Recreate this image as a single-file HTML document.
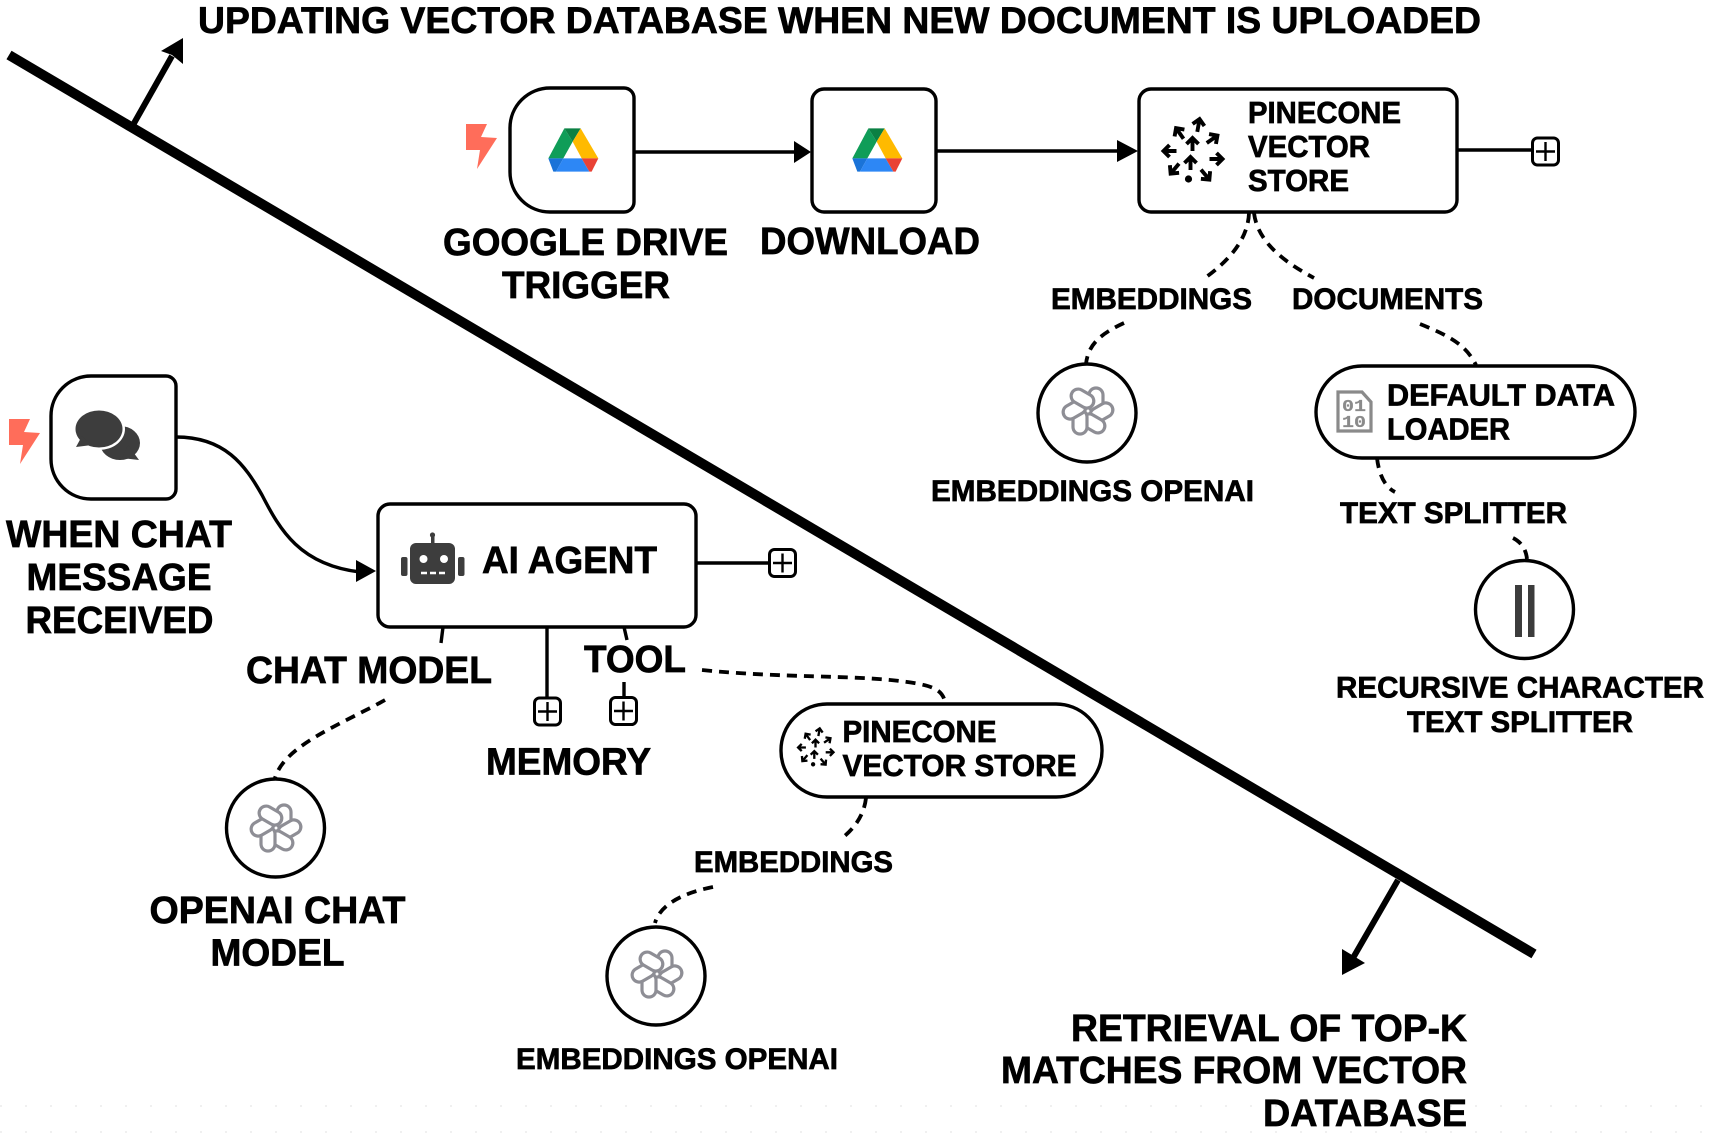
<!DOCTYPE html>
<html><head><meta charset="utf-8">
<style>
html,body{margin:0;padding:0;background:#fff;width:1713px;height:1140px;overflow:hidden}
svg{display:block}
text{font-family:"Liberation Sans",sans-serif;font-weight:bold;fill:#000;stroke:#000;stroke-width:.7}
.n{fill:#fff;stroke:#000;stroke-width:3.4}
.s{fill:none;stroke:#000;stroke-width:3.4}
.d{fill:none;stroke:#000;stroke-width:3.8;stroke-dasharray:10 7}
</style></head><body>
<svg width="1713" height="1140" viewBox="0 0 1713 1140" xmlns="http://www.w3.org/2000/svg">
<defs>
<g id="drive">
<polygon fill="#0f9d58" points="85,175 133,85 158,125 130,175"/>
<polygon fill="#0b8043" points="133,85 182,85 158,125"/>
<polygon fill="#ffba00" points="182,85 235,175 185,175 158,125"/>
<polygon fill="#1a73d8" points="85,175 130,175 108,215 100,215"/>
<polygon fill="#2d87f5" points="130,175 185,175 208,215 108,215"/>
<polygon fill="#e94235" points="185,175 235,175 215,215 208,215"/>
</g>
<g id="plus">
<rect x="0.5" y="0" width="26" height="27" rx="5" fill="#fff" stroke="#000" stroke-width="3"/>
<path d="M13.5 4V23M4 13.5H23" stroke="#000" stroke-width="2.4" fill="none"/>
</g>
<polygon id="bolt" fill="#ff6d5a" points="466,124 487,124 481,137 497,138 477,169 480,150 466,150"/>
<path id="a" d="M0 7V-6M-6 0L0 -6L6 0" fill="none" stroke="#000" stroke-width="3.9"/>
<g id="pc">
<use href="#a" transform="translate(6,-26) rotate(10)"/>
<use href="#a" transform="translate(-13,-18) rotate(-35)"/>
<use href="#a" transform="translate(20,-12) rotate(55)"/>
<use href="#a" transform="translate(-23,0) rotate(-90)"/>
<use href="#a" transform="translate(24,8) rotate(90)"/>
<use href="#a" transform="translate(-18,18) rotate(-140)"/>
<use href="#a" transform="translate(13,24) rotate(140)"/>
<use href="#a" transform="translate(0,-7)"/>
<use href="#a" transform="translate(-2,12)"/>
<circle cx="-4" cy="28" r="3.6" fill="#000"/>
</g>
<g id="oa" fill="#fff" stroke="#8e8e95" stroke-width="3.2">
<rect x="1" y="-23" width="14" height="24" rx="7" transform="rotate(0)"/>
<rect x="1" y="-23" width="14" height="24" rx="7" transform="rotate(60)"/>
<rect x="1" y="-23" width="14" height="24" rx="7" transform="rotate(120)"/>
<rect x="1" y="-23" width="14" height="24" rx="7" transform="rotate(180)"/>
<rect x="1" y="-23" width="14" height="24" rx="7" transform="rotate(240)"/>
<rect x="1" y="-23" width="14" height="24" rx="7" transform="rotate(300)"/>
</g>
</defs>

<rect width="1713" height="1140" fill="#fff"/>
<path d="M0 1106H1713M0 1132H1713" stroke="#f0f0f0" stroke-width="2" stroke-dasharray="2 23"/>

<!-- divider -->
<line x1="9" y1="55" x2="1534" y2="954" stroke="#000" stroke-width="10"/>
<line x1="133" y1="125" x2="172" y2="56" stroke="#000" stroke-width="6"/>
<polygon points="183,38 161,51 172,55 183,64" fill="#000"/>
<line x1="1398" y1="880" x2="1353" y2="958" stroke="#000" stroke-width="6"/>
<polygon points="1342,975 1342,949 1352,955 1365,963" fill="#000"/>

<text x="198" y="33" font-size="37" textLength="1283" lengthAdjust="spacingAndGlyphs">UPDATING VECTOR DATABASE WHEN NEW DOCUMENT IS UPLOADED</text>

<!-- top flow -->
<use href="#bolt"/>
<path class="n" d="M550 88H624a10 10 0 0 1 10 10V202a10 10 0 0 1 -10 10H550a40 40 0 0 1 -40 -40V128a40 40 0 0 1 40 -40Z"/>
<use href="#drive" transform="translate(520,100) scale(.3333)"/>
<path class="s" d="M635 152H798"/>
<polygon points="811,152 794,141 794,163" fill="#000"/>
<rect class="n" x="812" y="89" width="124" height="123" rx="12"/>
<use href="#drive" transform="translate(824,100) scale(.3333)"/>
<path class="s" d="M937 151H1122"/>
<polygon points="1138,151 1117,140 1117,162" fill="#000"/>
<rect class="n" x="1139" y="89" width="318" height="123" rx="12"/>
<use href="#pc" transform="translate(1192.5,151)"/>
<text x="1248" y="123" font-size="31" textLength="153" lengthAdjust="spacingAndGlyphs">PINECONE</text>
<text x="1248" y="157" font-size="31" textLength="122" lengthAdjust="spacingAndGlyphs">VECTOR</text>
<text x="1248" y="191" font-size="31" textLength="101" lengthAdjust="spacingAndGlyphs">STORE</text>
<path class="s" d="M1457 150H1532"/>
<use href="#plus" transform="translate(1532,138)"/>

<text x="443" y="255" font-size="38" textLength="285" lengthAdjust="spacingAndGlyphs">GOOGLE DRIVE</text>
<text x="502" y="298" font-size="38" textLength="168" lengthAdjust="spacingAndGlyphs">TRIGGER</text>
<text x="760" y="254" font-size="38" textLength="220" lengthAdjust="spacingAndGlyphs">DOWNLOAD</text>

<path class="d" d="M1249 213C1248 240 1228 262 1202 280"/>
<path class="d" d="M1254 213C1258 245 1290 265 1314 278"/>
<text x="1051" y="309" font-size="30" textLength="201" lengthAdjust="spacingAndGlyphs">EMBEDDINGS</text>
<text x="1292" y="309" font-size="30" textLength="191" lengthAdjust="spacingAndGlyphs">DOCUMENTS</text>
<path class="d" d="M1124 323C1100 334 1088 345 1086 364"/>
<path class="d" d="M1420 324C1450 336 1466 345 1476 365"/>
<circle class="n" cx="1087" cy="413" r="49"/>
<use href="#oa" transform="translate(1088,411)"/>
<text x="931" y="501" font-size="30" textLength="323" lengthAdjust="spacingAndGlyphs">EMBEDDINGS OPENAI</text>

<rect class="n" x="1316" y="366" width="319" height="92" rx="46"/>
<path d="M1338 392H1362L1371 402V431H1338Z" fill="none" stroke="#8a8a8a" stroke-width="3.2"/>
<text x="1342" y="411" font-size="17" style="font-family:'Liberation Mono',monospace;fill:#8a8a8a;stroke:#8a8a8a;stroke-width:.2" textLength="24" lengthAdjust="spacingAndGlyphs">01</text>
<text x="1342" y="427" font-size="17" style="font-family:'Liberation Mono',monospace;fill:#8a8a8a;stroke:#8a8a8a;stroke-width:.2" textLength="24" lengthAdjust="spacingAndGlyphs">10</text>
<text x="1387" y="405.5" font-size="31" textLength="228" lengthAdjust="spacingAndGlyphs">DEFAULT DATA</text>
<text x="1387" y="439.5" font-size="31" textLength="123" lengthAdjust="spacingAndGlyphs">LOADER</text>

<path class="d" d="M1377 458C1379 475 1385 487 1395 492" stroke-dasharray="9 8"/>
<text x="1340" y="523" font-size="30" textLength="227" lengthAdjust="spacingAndGlyphs">TEXT SPLITTER</text>
<path class="d" d="M1513 538C1521 542 1526 549 1527 559" stroke-dasharray="6 6"/>
<circle class="n" cx="1524.5" cy="609.5" r="49"/>
<rect x="1515" y="585" width="7" height="52" fill="#3c3c3c"/>
<rect x="1528" y="585" width="6.5" height="52" fill="#3c3c3c"/>
<text x="1336" y="697.5" font-size="30" textLength="368" lengthAdjust="spacingAndGlyphs">RECURSIVE CHARACTER</text>
<text x="1407" y="732" font-size="30" textLength="226" lengthAdjust="spacingAndGlyphs">TEXT SPLITTER</text>

<!-- chat flow -->
<use href="#bolt" transform="translate(-457,295)"/>
<path class="n" d="M91 376H166a10 10 0 0 1 10 10V489a10 10 0 0 1 -10 10H91a40 40 0 0 1 -40 -40V416a40 40 0 0 1 40 -40Z"/>
<ellipse cx="120" cy="443" rx="20" ry="17" fill="#3d3d3d"/>
<polygon points="128,445 139,460 122,458" fill="#3d3d3d"/>
<ellipse cx="99" cy="429" rx="26" ry="21" fill="#fff"/>
<ellipse cx="99" cy="429" rx="23.5" ry="18.5" fill="#3d3d3d"/>
<polygon points="82,436 76,447 92,445" fill="#3d3d3d"/>
<path class="s" d="M176 437C225 437 245 465 262 495C280 530 300 565 360 572"/>
<polygon points="376,571 356,560 356,582" fill="#000"/>
<rect class="n" x="378" y="504" width="318" height="123" rx="12"/>
<rect x="410" y="543" width="45" height="41" rx="6" fill="#3d3d3d"/>
<rect x="431" y="534" width="3.5" height="10" fill="#3d3d3d"/>
<circle cx="432.5" cy="535" r="2.6" fill="#3d3d3d"/>
<rect x="401" y="557" width="6.5" height="19" rx="2" fill="#3d3d3d"/>
<rect x="458" y="557" width="6.5" height="19" rx="2" fill="#3d3d3d"/>
<circle cx="423.5" cy="559" r="4" fill="#fff"/>
<circle cx="444" cy="559" r="4" fill="#fff"/>
<path d="M421 573H445" stroke="#fff" stroke-width="2.5" stroke-dasharray="6 3"/>
<text x="482" y="573" font-size="38" textLength="175" lengthAdjust="spacingAndGlyphs">AI AGENT</text>
<path class="s" d="M696 563H769"/>
<use href="#plus" transform="translate(769,549.5)"/>
<path class="s" d="M443 627L441 643"/>
<path class="s" d="M547 627V698"/>
<use href="#plus" transform="translate(534,698)"/>
<path class="s" d="M624 627L627 640M624 682V698"/>
<use href="#plus" transform="translate(610,697.5)"/>

<text x="6" y="547" font-size="38" textLength="226" lengthAdjust="spacingAndGlyphs">WHEN CHAT</text>
<text x="26.5" y="590" font-size="38" textLength="185" lengthAdjust="spacingAndGlyphs">MESSAGE</text>
<text x="25.5" y="633" font-size="38" textLength="188" lengthAdjust="spacingAndGlyphs">RECEIVED</text>
<text x="246" y="683" font-size="38" textLength="246" lengthAdjust="spacingAndGlyphs">CHAT MODEL</text>
<text x="584" y="672" font-size="38" textLength="102" lengthAdjust="spacingAndGlyphs">TOOL</text>
<text x="486" y="774.5" font-size="38" textLength="165" lengthAdjust="spacingAndGlyphs">MEMORY</text>

<path class="d" d="M385 700C340 725 285 745 275 778"/>
<circle class="n" cx="275.5" cy="828" r="49"/>
<use href="#oa" transform="translate(276,828)"/>
<text x="149.5" y="923" font-size="38" textLength="256" lengthAdjust="spacingAndGlyphs">OPENAI CHAT</text>
<text x="210.5" y="965.5" font-size="38" textLength="134" lengthAdjust="spacingAndGlyphs">MODEL</text>

<path class="d" d="M702 670C780 678 850 675 900 681C930 685 942 688 945 702" stroke-dasharray="11 6 4 6"/>
<rect class="n" x="781" y="704" width="321" height="93" rx="46"/>
<use href="#pc" transform="translate(815.5,747.5) scale(.6)"/>
<text x="842.5" y="742" font-size="31" textLength="154" lengthAdjust="spacingAndGlyphs">PINECONE</text>
<text x="842.5" y="776" font-size="31" textLength="234" lengthAdjust="spacingAndGlyphs">VECTOR STORE</text>
<path class="d" d="M866 798C864 815 855 828 841 839"/>
<text x="694" y="872" font-size="30" textLength="199" lengthAdjust="spacingAndGlyphs">EMBEDDINGS</text>
<path class="d" d="M713 887C682 893 660 905 655 923"/>
<circle class="n" cx="656" cy="976" r="49"/>
<use href="#oa" transform="translate(657,974)"/>
<text x="516" y="1069" font-size="30" textLength="322" lengthAdjust="spacingAndGlyphs">EMBEDDINGS OPENAI</text>

<text x="1071" y="1041" font-size="38" textLength="396" lengthAdjust="spacingAndGlyphs">RETRIEVAL OF TOP-K</text>
<text x="1001" y="1083" font-size="38" textLength="466" lengthAdjust="spacingAndGlyphs">MATCHES FROM VECTOR</text>
<text x="1263" y="1126" font-size="38" textLength="204" lengthAdjust="spacingAndGlyphs">DATABASE</text>
</svg>
</body></html>
